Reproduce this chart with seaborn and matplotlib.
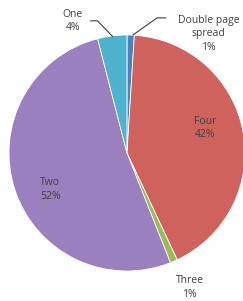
import numpy as np
import matplotlib
matplotlib.use("Agg")
import matplotlib.pyplot as plt
import seaborn as sns

# Data (clockwise from the top)
categories = ["Double page\nspread", "Four", "Three", "Two", "One"]
shares = [1, 42, 1, 52, 4]
colors = ["#4F81BD", "#D0625E", "#9BBB59", "#9A80BF", "#4DB3CF"]

sns.set_theme(style="white")
plt.rcParams['font.family'] = ['Open Sans', 'DejaVu Sans']

fig = plt.figure(figsize=(2.43, 3.01), dpi=100)
ax = fig.add_axes([0.037, 0.0997, 0.971, 0.784])
ax.pie(shares, colors=colors, startangle=90, counterclock=False,
       wedgeprops=dict(edgecolor="white", linewidth=0.6))
ax.set_xlim(-1, 1)
ax.set_ylim(-1, 1)
ax.set_aspect("auto")
ax.axis("off")

txt = dict(fontsize=7.5, color="#404040", ha="center", va="center", linespacing=1.3)
labels = [f"{c}\n{s}%" for c, s in zip(categories, shares)]
# label positions (axes data units)
pos = [(0.69, 1.01), (0.66, 0.21), (0.53, -1.14), (-0.65, -0.31), (-0.46, 1.12)]
for lab, (x, y) in zip(labels, pos):
    ax.text(x, y, lab, clip_on=False, **txt)

# leader lines for the small slices
ax.plot([-0.31, -0.25, -0.12], [1.12, 1.12, 0.985], color="#404040", lw=0.8, clip_on=False)
ax.plot([0.33, 0.255, 0.05], [1.145, 1.145, 1.0], color="#404040", lw=0.8, clip_on=False)

fig.savefig("out.png", dpi=100)
